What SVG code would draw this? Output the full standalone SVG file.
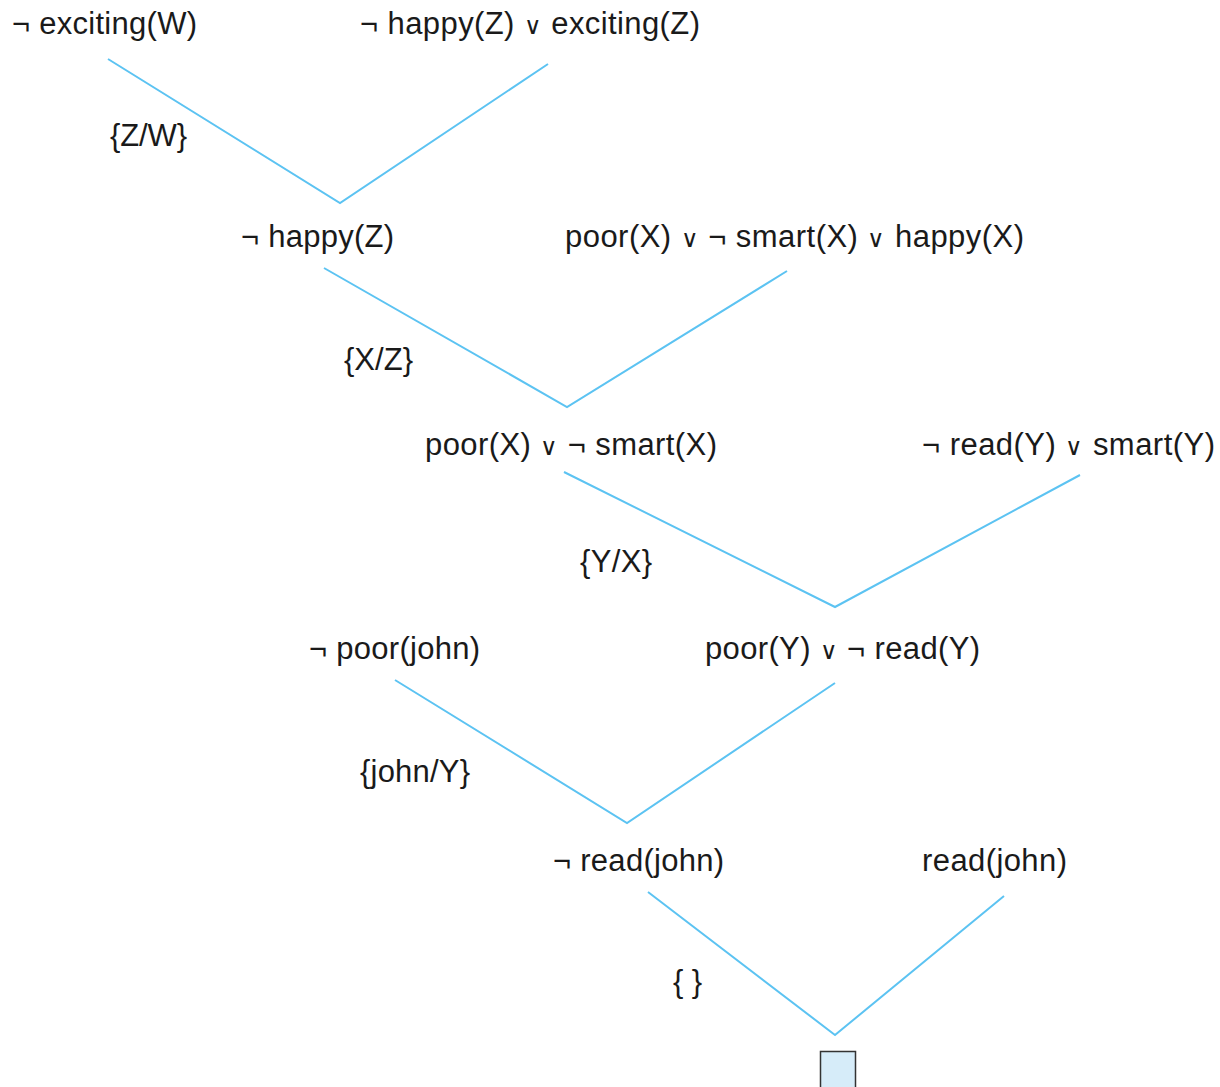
<svg xmlns="http://www.w3.org/2000/svg" width="1220" height="1087" viewBox="0 0 1220 1087">
  <style>
    .clause { font-family: "Liberation Sans", Arial, sans-serif; font-size: 31px; fill: #1a1a1a; }
    .subst { font-family: "Liberation Sans", Arial, sans-serif; font-size: 31px; fill: #1a1a1a; }
    .or { font-size: 24px; }
    .edge { fill: none; stroke: #5cc3f2; stroke-width: 2; stroke-linejoin: miter; }
  </style>
  <rect width="1220" height="1087" fill="#ffffff"/>

  <!-- resolution steps: two parent clauses joined into the resolvent below -->
  <g id="connectors">
    <polyline class="edge" points="108,59 340,203 548,64"/>
    <polyline class="edge" points="324,268 567,407 787,271"/>
    <polyline class="edge" points="564,472 835,607 1080,475"/>
    <polyline class="edge" points="395,680 627,823 835,683"/>
    <polyline class="edge" points="648,892 835,1035 1004,896"/>
  </g>

  <g id="n-not-exciting-W"><text class="clause" x="12" y="34" textLength="185" lengthAdjust="spacing">¬ exciting(W)</text></g>
  <g id="n-not-happy-or-exciting"><text class="clause" x="360" y="34" textLength="340" lengthAdjust="spacing">¬ happy(Z) <tspan class="or">∨</tspan> exciting(Z)</text></g>
  <g id="n-not-happy-Z"><text class="clause" x="241" y="247" textLength="153" lengthAdjust="spacing">¬ happy(Z)</text></g>
  <g id="n-poor-smart-happy"><text class="clause" x="565" y="247" textLength="459" lengthAdjust="spacing">poor(X) <tspan class="or">∨</tspan> ¬ smart(X) <tspan class="or">∨</tspan> happy(X)</text></g>
  <g id="n-poor-or-not-smart"><text class="clause" x="425" y="455" textLength="292" lengthAdjust="spacing">poor(X) <tspan class="or">∨</tspan> ¬ smart(X)</text></g>
  <g id="n-not-read-or-smart"><text class="clause" x="922" y="455" textLength="293" lengthAdjust="spacing">¬ read(Y) <tspan class="or">∨</tspan> smart(Y)</text></g>
  <g id="n-not-poor-john"><text class="clause" x="309" y="659" textLength="171" lengthAdjust="spacing">¬ poor(john)</text></g>
  <g id="n-poor-or-not-read"><text class="clause" x="705" y="659" textLength="275" lengthAdjust="spacing">poor(Y) <tspan class="or">∨</tspan> ¬ read(Y)</text></g>
  <g id="n-not-read-john"><text class="clause" x="553" y="871" textLength="171" lengthAdjust="spacing">¬ read(john)</text></g>
  <g id="n-read-john"><text class="clause" x="922" y="871" textLength="145" lengthAdjust="spacing">read(john)</text></g>

  <!-- empty clause -->
  <g id="n-empty">
    <rect x="820.5" y="1051.5" width="35" height="40" fill="#d6ecf9" stroke="#333333" stroke-width="1.5"/>
  </g>

  <!-- substitutions -->
  <g id="substitutions">
    <text class="subst" x="110" y="146" textLength="77" lengthAdjust="spacing">{Z/W}</text>
    <text class="subst" x="344" y="370" textLength="69" lengthAdjust="spacing">{X/Z}</text>
    <text class="subst" x="580" y="572" textLength="72" lengthAdjust="spacing">{Y/X}</text>
    <text class="subst" x="360" y="782" textLength="110" lengthAdjust="spacing">{john/Y}</text>
    <text class="subst" x="673" y="992" textLength="29" lengthAdjust="spacing">{ }</text>
  </g>
</svg>
